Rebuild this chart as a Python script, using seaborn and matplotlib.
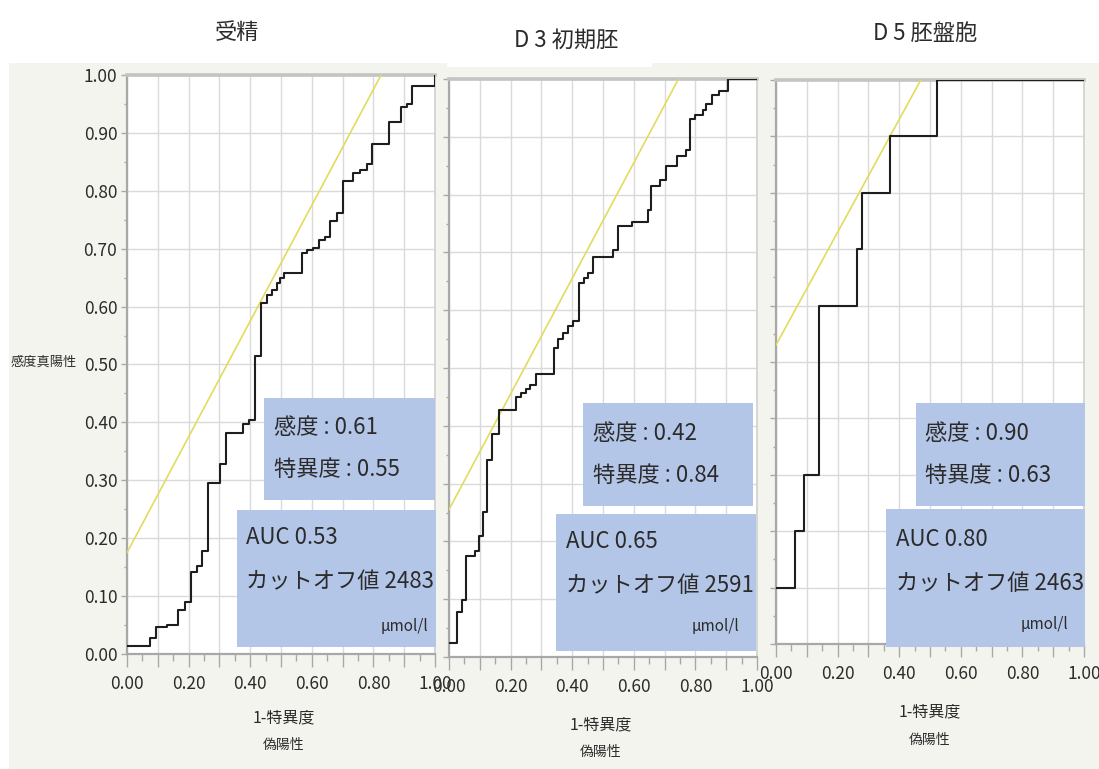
import matplotlib
matplotlib.use("Agg")
import matplotlib.pyplot as plt
from matplotlib.ticker import MultipleLocator, FuncFormatter
from matplotlib.patches import Rectangle
from matplotlib.transforms import ScaledTranslation
import pandas as pd
import seaborn as sns

# ---- data -------------------------------------------------------------
titles = ["受精", "D 3 初期胚", "D 5 胚盤胞"]

# ROC step curves: each point starts a horizontal run (1-特異度, 感度)
fpr_fert = [0.000, 0.075, 0.094, 0.129, 0.167, 0.188, 0.208, 0.226, 0.242, 0.264,
            0.302, 0.321, 0.378, 0.397, 0.416, 0.434, 0.453, 0.470, 0.486, 0.497,
            0.510, 0.567, 0.583, 0.605, 0.623, 0.643, 0.659, 0.681, 0.700, 0.735,
            0.756, 0.778, 0.797, 0.852, 0.889, 0.910, 0.926, 1.000, 1.000]
tpr_fert = [0.014, 0.027, 0.047, 0.050, 0.076, 0.089, 0.142, 0.152, 0.178, 0.295,
            0.328, 0.381, 0.398, 0.404, 0.514, 0.606, 0.620, 0.629, 0.640, 0.649,
            0.658, 0.692, 0.697, 0.701, 0.715, 0.721, 0.747, 0.761, 0.817, 0.830,
            0.836, 0.847, 0.880, 0.919, 0.945, 0.950, 0.981, 0.981, 1.000]

fpr_d3 = [0.000, 0.025, 0.041, 0.055, 0.084, 0.098, 0.109, 0.122, 0.138, 0.163,
          0.219, 0.235, 0.250, 0.263, 0.283, 0.342, 0.355, 0.371, 0.387, 0.404,
          0.423, 0.438, 0.452, 0.467, 0.534, 0.550, 0.593, 0.647, 0.655, 0.685,
          0.704, 0.741, 0.768, 0.782, 0.799, 0.826, 0.836, 0.853, 0.878, 0.907,
          1.000]
tpr_d3 = [0.024, 0.078, 0.098, 0.174, 0.184, 0.210, 0.251, 0.340, 0.385, 0.428,
          0.450, 0.457, 0.464, 0.471, 0.490, 0.535, 0.550, 0.561, 0.572, 0.581,
          0.647, 0.656, 0.664, 0.692, 0.705, 0.745, 0.753, 0.774, 0.815, 0.826,
          0.850, 0.866, 0.877, 0.930, 0.938, 0.947, 0.956, 0.973, 0.980, 1.000,
          1.000]

fpr_d5 = [0.000, 0.062, 0.092, 0.139, 0.262, 0.280, 0.370, 0.523, 1.000]
tpr_d5 = [0.100, 0.200, 0.300, 0.600, 0.700, 0.800, 0.900, 1.000, 1.000]

sensitivity = [0.61, 0.42, 0.90]
specificity = [0.55, 0.84, 0.63]
auc_values = [0.53, 0.65, 0.80]
cutoffs = [2483, 2591, 2463]
tangent_intercepts = [0.175, 0.255, 0.53]   # slope-1 line touching the cutoff point

curves = [(fpr_fert, tpr_fert), (fpr_d3, tpr_d3), (fpr_d5, tpr_d5)]

# ---- style ------------------------------------------------------------
sns.set_theme(style="white")
JP = ["Noto Sans CJK JP", "DejaVu Sans"]
plt.rcParams["font.family"] = JP

W, H = 1099, 769
fig = plt.figure(figsize=(W / 100, H / 100), dpi=100, facecolor="white")


def fx(x):
    return x / W


def fy(y):
    return 1 - y / H


# light grey backdrop behind the three panels
fig.add_artist(Rectangle((fx(9), 0), fx(W - 9), fy(63), transform=fig.transFigure,
                         facecolor="#f4f4ef", edgecolor="none", zorder=-10))
fig.add_artist(Rectangle((fx(447), fy(67)), fx(205), 4 / H, transform=fig.transFigure,
                         facecolor="white", edgecolor="none", zorder=-9))

# panel frames in pixels: left, top, right, bottom
frames = [(127, 75, 435, 654), (449, 79, 757, 657), (776, 80, 1084, 644)]
title_pos = [(237, 32), (566, 40), (925, 33)]
xlabel_pos = [(284, 718, 745), (601, 725, 752), (930, 712, 740)]

# info boxes: (box1 l, t, r, b), (box2 l, t, r, b), text anchors
boxes1 = [(264, 398, 435, 500), (583, 403, 753, 506), (916, 403, 1085, 506)]
boxes2 = [(237, 510, 436, 647), (556, 514, 756, 651), (886, 509, 1085, 647)]
sens_xy = [(274, 428, 469), (593, 433, 475), (925, 433, 475)]
auc_xy = [(246, 538, 582), (566, 542, 586), (896, 540, 583)]
unit_xy = [(428, 627), (739, 627), (1068, 625)]

BOX_COLOR = "#b4c6e7"
TEXT = "#2b2b2b"
TICK_SIZE = 12.5


def pct_fmt(v, _):
    return f"{v:.2f}" if round(v * 10) % 2 == 0 else ""


for i, (l, t, r, b) in enumerate(frames):
    ax = fig.add_axes([fx(l), fy(b), fx(r - l), (b - t) / H])
    ax.set_facecolor("white")

    fpr, tpr = curves[i]
    df = pd.DataFrame({"fpr": fpr, "tpr": tpr})

    # slope-1 tangent line through the chosen cutoff
    tan_df = pd.DataFrame({"fpr": [0.0, 1.0],
                           "tpr": [tangent_intercepts[i], tangent_intercepts[i] + 1.0]})
    sns.lineplot(data=tan_df, x="fpr", y="tpr", ax=ax, color="#e2dc5c", lw=1.2,
                 estimator=None, sort=False, zorder=3)
    sns.lineplot(data=df, x="fpr", y="tpr", ax=ax, color="#1e1e1e", lw=1.5,
                 estimator=None, sort=False, drawstyle="steps-post", zorder=4)

    ax.set_xlim(0, 1)
    ax.set_ylim(0, 1)
    ax.set_xlabel("")
    ax.set_ylabel("")

    ax.xaxis.set_major_locator(MultipleLocator(0.1))
    ax.xaxis.set_minor_locator(MultipleLocator(0.05))
    ax.xaxis.set_major_formatter(FuncFormatter(pct_fmt))
    ax.yaxis.set_major_locator(MultipleLocator(0.1))
    ax.yaxis.set_minor_locator(MultipleLocator(0.05))
    ax.yaxis.set_major_formatter(FuncFormatter(lambda v, _: f"{v:.2f}"))

    ax.grid(True, which="major", color="#dadada", lw=1.0)
    ax.set_axisbelow(True)

    ax.tick_params(axis="x", which="major", bottom=True, length=9, width=1,
                   color="#a8a8a8", pad=6, labelsize=TICK_SIZE, labelcolor=TEXT)
    ax.tick_params(axis="x", which="minor", bottom=True, length=5, width=1,
                   color="#a8a8a8")
    ax.tick_params(axis="y", which="major", left=True, length=4.5, width=1,
                   color="#a8a8a8", pad=2.5, labelsize=TICK_SIZE, labelcolor=TEXT,
                   labelleft=(i == 0))
    ax.tick_params(axis="y", which="minor", left=True, length=2.5, width=1,
                   color="#a8a8a8")

    # keep the outermost labels inside the canvas / off the neighbour panel
    fig.canvas.draw()
    xlabels = ax.get_xticklabels()
    if i == len(frames) - 1:
        xlabels[-1].set_transform(xlabels[-1].get_transform() +
                                  ScaledTranslation(-4 / 100, 0, fig.dpi_scale_trans))

    for side in ("left", "bottom"):
        ax.spines[side].set_color("#a8a8a8")
        ax.spines[side].set_linewidth(1.6)
    ax.spines["top"].set_color("#c4c4c4")
    ax.spines["top"].set_linewidth(2.6)
    ax.spines["right"].set_color("#d0d0d0")
    ax.spines["right"].set_linewidth(1.2)

    # panel title and axis captions
    tx, ty = title_pos[i]
    fig.text(fx(tx), fy(ty), titles[i], ha="center", va="center",
             fontsize=16, color=TEXT)
    lx, ly1, ly2 = xlabel_pos[i]
    fig.text(fx(lx), fy(ly1), "1-特異度", ha="center", va="center",
             fontsize=11.5, color=TEXT)
    fig.text(fx(lx), fy(ly2), "偽陽性", ha="center", va="center",
             fontsize=10, color=TEXT)

    # summary boxes
    for (bl, bt, br, bb) in (boxes1[i], boxes2[i]):
        fig.add_artist(Rectangle((fx(bl), fy(bb)), fx(br - bl), (bb - bt) / H,
                                 transform=fig.transFigure, facecolor=BOX_COLOR,
                                 edgecolor="none", zorder=5))
    sx, sy1, sy2 = sens_xy[i]
    fig.text(fx(sx), fy(sy1), f"感度 : {sensitivity[i]:.2f}", ha="left",
             va="center", fontsize=16, color=TEXT, zorder=6)
    fig.text(fx(sx), fy(sy2), f"特異度 : {specificity[i]:.2f}", ha="left",
             va="center", fontsize=16, color=TEXT, zorder=6)
    ax_, ay1, ay2 = auc_xy[i]
    fig.text(fx(ax_), fy(ay1), f"AUC {auc_values[i]:.2f}", ha="left",
             va="center", fontsize=16, color=TEXT, zorder=6)
    fig.text(fx(ax_), fy(ay2), f"カットオフ値 {cutoffs[i]}", ha="left",
             va="center", fontsize=16, color=TEXT, zorder=6)
    ux, uy = unit_xy[i]
    fig.text(fx(ux), fy(uy), "μmol/l", ha="right", va="center",
             fontsize=11, color=TEXT, zorder=6)

fig.text(fx(44), fy(362), "感度真陽性", ha="center", va="center",
         fontsize=9.5, color=TEXT)

fig.savefig("out.png", dpi=100, facecolor=fig.get_facecolor())
